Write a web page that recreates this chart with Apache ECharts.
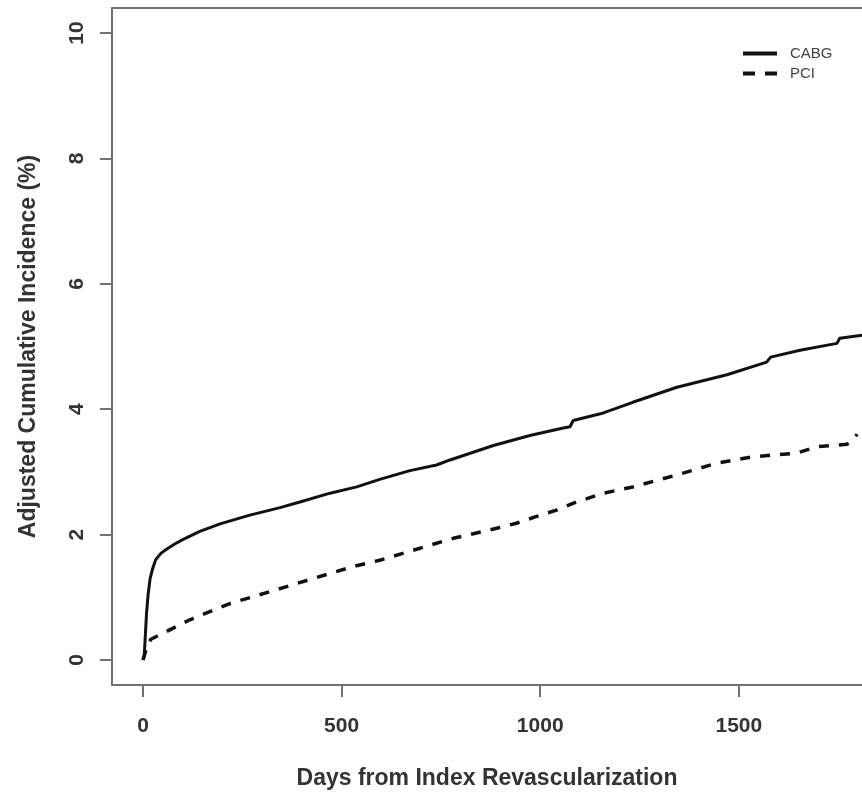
<!DOCTYPE html>
<html>
<head>
<meta charset="utf-8">
<script src="https://cdn.jsdelivr.net/npm/echarts@6/dist/echarts.min.js"></script>
<style>
  html, body { margin: 0; padding: 0; background: #fff; }
  #chart { width: 862px; height: 796px; }
</style>
</head>
<body>
<div id="chart"></div>
<script>
// days from index revascularization, adjusted cumulative incidence (%)
const cabgDays = [0, 3, 6, 9, 13, 18, 24, 32, 45, 60, 80, 100, 143, 194, 269, 345, 395, 471, 538, 596,
  672, 739, 773, 882, 974, 1058, 1075, 1083, 1159, 1233, 1344, 1470, 1570, 1580, 1654, 1747, 1754, 1810];
const cabgValues = [0, 0.05, 0.4, 0.75, 1.05, 1.3, 1.45, 1.6, 1.7, 1.77, 1.85, 1.92, 2.05, 2.17, 2.31, 2.43, 2.52, 2.66, 2.76, 2.88,
  3.02, 3.11, 3.19, 3.42, 3.58, 3.70, 3.72, 3.82, 3.94, 4.11, 4.35, 4.55, 4.75, 4.83, 4.94, 5.05, 5.13, 5.18];

const pciDays = [0, 12, 20, 118, 219, 320, 429, 529, 596, 680, 781, 890, 940, 991, 1041, 1092, 1159,
  1233, 1344, 1445, 1535, 1646, 1696, 1772, 1785, 1798];
const pciValues = [0, 0.25, 0.33, 0.64, 0.90, 1.09, 1.30, 1.49, 1.59, 1.75, 1.94, 2.10, 2.18, 2.29, 2.39, 2.52, 2.66,
  2.76, 2.95, 3.14, 3.24, 3.30, 3.40, 3.44, 3.50, 3.60];

const xTicks = [0, 500, 1000, 1500];
const yTicks = [0, 2, 4, 6, 8, 10];

const font = 'Liberation Sans, Arial, sans-serif';
const frame = { color: '#707070', width: 2 };
const pair = (xs, ys) => xs.map((x, i) => [x, ys[i]]);

let chart = echarts.init(document.getElementById('chart'));
chart.setOption({
  animation: false,
  grid: { left: 112, right: 0, top: 8, bottom: 111 },
  legend: {
    orient: 'vertical', left: 743, top: 46, padding: 0,
    itemWidth: 34, itemHeight: 4, itemGap: 5,
    textStyle: { fontFamily: font, fontSize: 15, color: '#444', padding: [0, 0, 0, 8] },
    data: [
      { name: 'CABG', icon: 'rect' },
      { name: 'PCI', icon: 'path://M0,0H12V4H0Z M22,0H34V4H22Z' }
    ]
  },
  xAxis: [{
    type: 'value', min: -78, max: 1810,
    axisLine: { onZero: false, lineStyle: frame },
    splitLine: { show: false },
    axisTick: { customValues: xTicks, length: 12, lineStyle: frame },
    axisLabel: {
      customValues: xTicks, margin: 31, formatter: v => String(v),
      fontFamily: font, fontSize: 21, fontWeight: 'bold', color: '#333'
    },
    name: 'Days from Index Revascularization',
    nameLocation: 'middle', nameGap: 82,
    nameTextStyle: { fontFamily: font, fontSize: 23, fontWeight: 'bold', color: '#333' }
  }, {
    // top edge of the plot box
    type: 'value', position: 'top', min: -78, max: 1810,
    axisLine: { onZero: false, lineStyle: frame },
    axisTick: { show: false }, axisLabel: { show: false }, splitLine: { show: false }
  }],
  yAxis: {
    type: 'value', min: -0.4, max: 10.4,
    axisLine: { show: true, onZero: false, lineStyle: frame },
    splitLine: { show: false },
    axisTick: { customValues: yTicks, length: 12, lineStyle: frame },
    axisLabel: {
      customValues: yTicks, rotate: 90, margin: 24,
      fontFamily: font, fontSize: 21, fontWeight: 'bold', color: '#333'
    },
    name: 'Adjusted Cumulative Incidence (%)',
    nameLocation: 'middle', nameGap: 72, nameRotate: 90,
    nameTextStyle: { fontFamily: font, fontSize: 23, fontWeight: 'bold', color: '#333' }
  },
  series: [
    {
      name: 'CABG', type: 'line', symbol: 'none',
      lineStyle: { color: '#111', width: 3 },
      itemStyle: { color: '#111' },
      data: pair(cabgDays, cabgValues)
    },
    {
      name: 'PCI', type: 'line', symbol: 'none',
      lineStyle: { color: '#111', width: 3.5, type: [10, 10], cap: 'butt' },
      itemStyle: { color: '#111' },
      data: pair(pciDays, pciValues)
    }
  ]
});
</script>
</body>
</html>
